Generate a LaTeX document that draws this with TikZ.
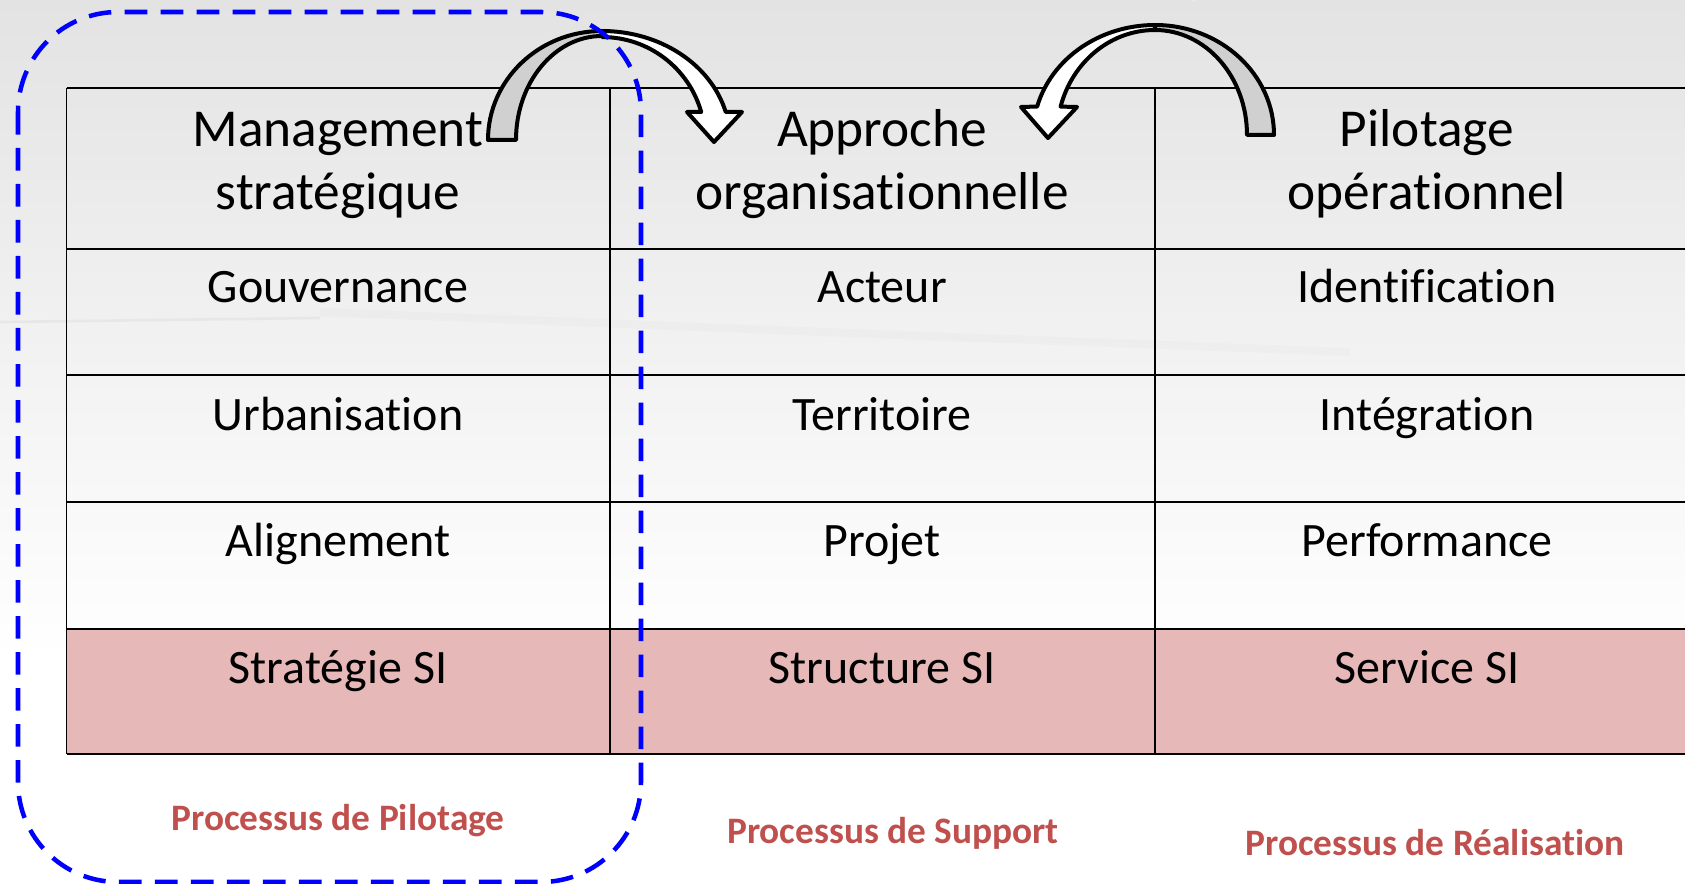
\documentclass[tikz,border=0pt]{standalone}
\usepackage{fontspec}
\setmainfont{Carlito}[Ligatures={NoCommon,NoContextual}, Contextuals={NoAlternate}]
\usetikzlibrary{calc}
\definecolor{siPink}{HTML}{E6B8B7}
\definecolor{procRed}{HTML}{C0504D}
\definecolor{arrowGray}{HTML}{D0D0D0}
\definecolor{frameBlue}{HTML}{0000FF}
\begin{document}
\begin{tikzpicture}[x=0.75pt,y=0.75pt,
  hline/.style={line width=1.7pt, black},
  vline/.style={line width=1.3pt, black},
  cell/.style={font=\fontsize{36}{43}\selectfont, anchor=base, inner sep=0pt},
  head/.style={font=\fontsize{40}{48}\selectfont, anchor=base, inner sep=0pt},
  proc/.style={font=\bfseries\fontsize{28}{34}\selectfont, text=procRed, anchor=base, inner sep=0pt},
  arcshape/.style={draw=black, line width=3pt, line join=round},
  frame/.style={draw=frameBlue, line width=3.4pt, dash pattern=on 17pt off 10pt, rounded corners=75pt}
]
\useasboundingbox (0,0) rectangle (1685,-884);

% soft grey backdrop fading to white
\shade[top color=gray!22, bottom color=white] (0,0) rectangle (1685,-660);
\fill[white] (0,-660) rectangle (1685,-884);
% faint laptop silhouette in the backdrop
\draw[white, line width=3pt, opacity=0.8] (1195,0) -- (1045,300);
\draw[gray!30, line width=1pt, opacity=0.5] (1188,0) -- (1038,300);
\draw[gray!25, line width=2pt, opacity=0.5] (0,-322) -- (320,-318);
\draw[gray!20, line width=6pt, opacity=0.3] (320,-312) -- (900,-335) -- (1350,-352);

% table geometry
\def\xa{66.5}\def\xb{610}\def\xc{1155}\def\xd{1700}
% pink bottom row
\fill[siPink] (\xa,-629) rectangle (\xd,-754);
% horizontal rules
\foreach \yy in {88,249,375,502,629,754}
  \draw[hline] (\xa,-\yy) -- (\xd,-\yy);
% vertical rules
\foreach \xx in {\xa,\xb,\xc}
  \draw[vline] (\xx,-88) -- (\xx,-754);

% header row
\node[head] (h1a) at (338,-147) {Management};
\node[head] (h1b) at (338,-210) {stratégique};
\node[head] (h2a) at (882,-147) {Approche};
\node[head] (h2b) at (882,-210) {organisationnelle};
\node[head] (h3a) at (1427,-147) {Pilotage};
\node[head] (h3b) at (1427,-210) {opérationnel};

% body rows
\node[cell] (r1a) at (338,-303) {Gouvernance};
\node[cell] (r1b) at (882,-303) {Acteur};
\node[cell] (r1c) at (1427,-303) {Identification};
\node[cell] (r2a) at (338,-430) {Urbanisation};
\node[cell] (r2b) at (882,-430) {Territoire};
\node[cell] (r2c) at (1427,-430) {Intégration};
\node[cell] (r3a) at (338,-556) {Alignement};
\node[cell] (r3b) at (882,-556) {Projet};
\node[cell] (r3c) at (1427,-556) {Performance};
\node[cell] (r4a) at (338,-683) {Stratégie SI};
\node[cell] (r4b) at (882,-683) {Structure SI};
\node[cell] (r4c) at (1427,-683) {Service SI};

% process labels
\node[proc] (p1) at (338,-830) {Processus de Pilotage};
\node[proc] (p2) at (893,-843) {Processus de Support};
\node[proc] (p3) at (1435,-855) {Processus de Réalisation};

% curved block arrow: strategic -> organisational
\coordinate (a1c) at (602,-140);
\filldraw[arcshape, fill=arrowGray]
  ($(a1c)+(-114,0)$) arc[start angle=180, end angle=90, x radius=114, y radius=109]
  -- ($(a1c)+(0,104)$) arc[start angle=90, end angle=180, x radius=86, y radius=104]
  -- cycle;
\filldraw[arcshape, fill=white]
  ($(a1c)+(0,109)$) arc[start angle=90, end angle=14.9, x radius=128, y radius=109]
  -- (742,-112) -- (714,-142) -- (687,-112)
  -- ($(a1c)+(99.2,28)$) arc[start angle=15.8, end angle=90, x radius=103, y radius=103]
  -- cycle;

% curved block arrow: operational -> organisational
\coordinate (a2c) at (1155,-135);
\filldraw[arcshape, fill=arrowGray]
  ($(a2c)+(119,0)$) arc[start angle=0, end angle=90, x radius=119, y radius=110]
  -- ($(a2c)+(0,105)$) arc[start angle=90, end angle=0, x radius=92, y radius=105]
  -- cycle;
\filldraw[arcshape, fill=white]
  ($(a2c)+(0,110)$) arc[start angle=90, end angle=165, x radius=122, y radius=110]
  -- (1021,-107) -- (1048,-138) -- (1077,-107)
  -- ($(a2c)+(-94.4,28.4)$) arc[start angle=164.3, end angle=90, x radius=98, y radius=105]
  -- cycle;

% dashed frame around the steering column
\draw[frame] (18,-12) rectangle (641,-882);
\end{tikzpicture}
\end{document}
